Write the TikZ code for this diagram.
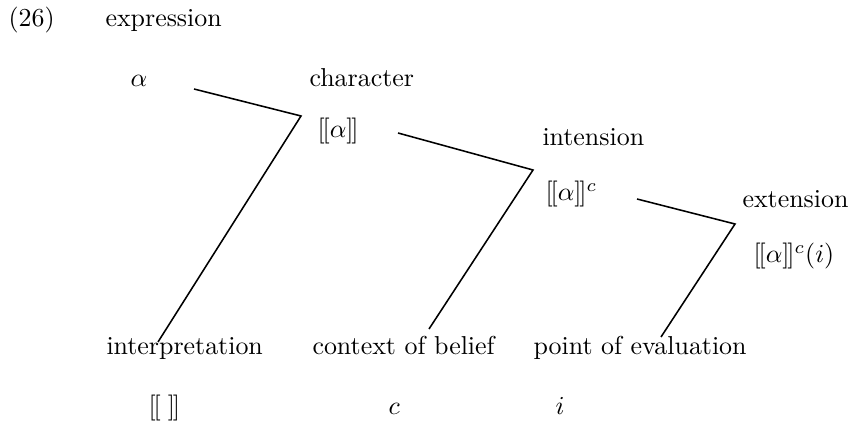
\documentclass[tikz,border=0pt]{standalone}
\usepackage{amsmath,amssymb}
\usepackage{tikz}
\newcommand{\den}[1]{[\mkern-1.5mu[#1]\mkern-1.5mu]}

\begin{document}
\begin{tikzpicture}[x=0.386pt, y=-0.386pt,
  every node/.style={inner sep=0pt, anchor=base west},
  link/.style={black, line width=0.6pt, line join=miter}]

% Page frame in reference pixels (y runs downward)
\useasboundingbox (0,0) rectangle (851,422);

% --- Heading ---
\node (num)  at (8,27)   {(26)};
\node (expr) at (105,27) {expression};

% --- Top row: the expression and its values ---
\node (alpha)   at (130,87)  {$\alpha$};
\node (charlab) at (309,87)  {character};
\node (charval) at (317,138) {$\den{\alpha}$};
\node (intlab)  at (542,146) {intension};
\node (intval)  at (545,201) {$\den{\alpha}^c$};
\node (extlab)  at (742,208) {extension};
\node (extval)  at (753,263) {$\den{\alpha}^c(i)$};

% --- Bottom row: the arguments ---
\node (interp) at (106,355) {interpretation};
\node (ctx)    at (312,355) {context of belief};
\node (point)  at (533,355) {point of evaluation};
\node (brk)    at (148,415) {$\den{\;}$};
\node (cval)   at (388,415) {$c$};
\node (ival)   at (555,415) {$i$};

% --- Corners and free ends of the three links ---
\coordinate (s1) at (194,89);
\coordinate (k1) at (301,116);
\coordinate (e1) at (158,342);

\coordinate (s2) at (398,133);
\coordinate (k2) at (533,170);
\coordinate (e2) at (429,329);

\coordinate (s3) at (637,199);
\coordinate (k3) at (735,224);
\coordinate (e3) at (661,337);

% --- Links ---
\draw[link] (s1) -- (k1) -- (e1);
\draw[link] (s2) -- (k2) -- (e2);
\draw[link] (s3) -- (k3) -- (e3);

\end{tikzpicture}
\end{document}
